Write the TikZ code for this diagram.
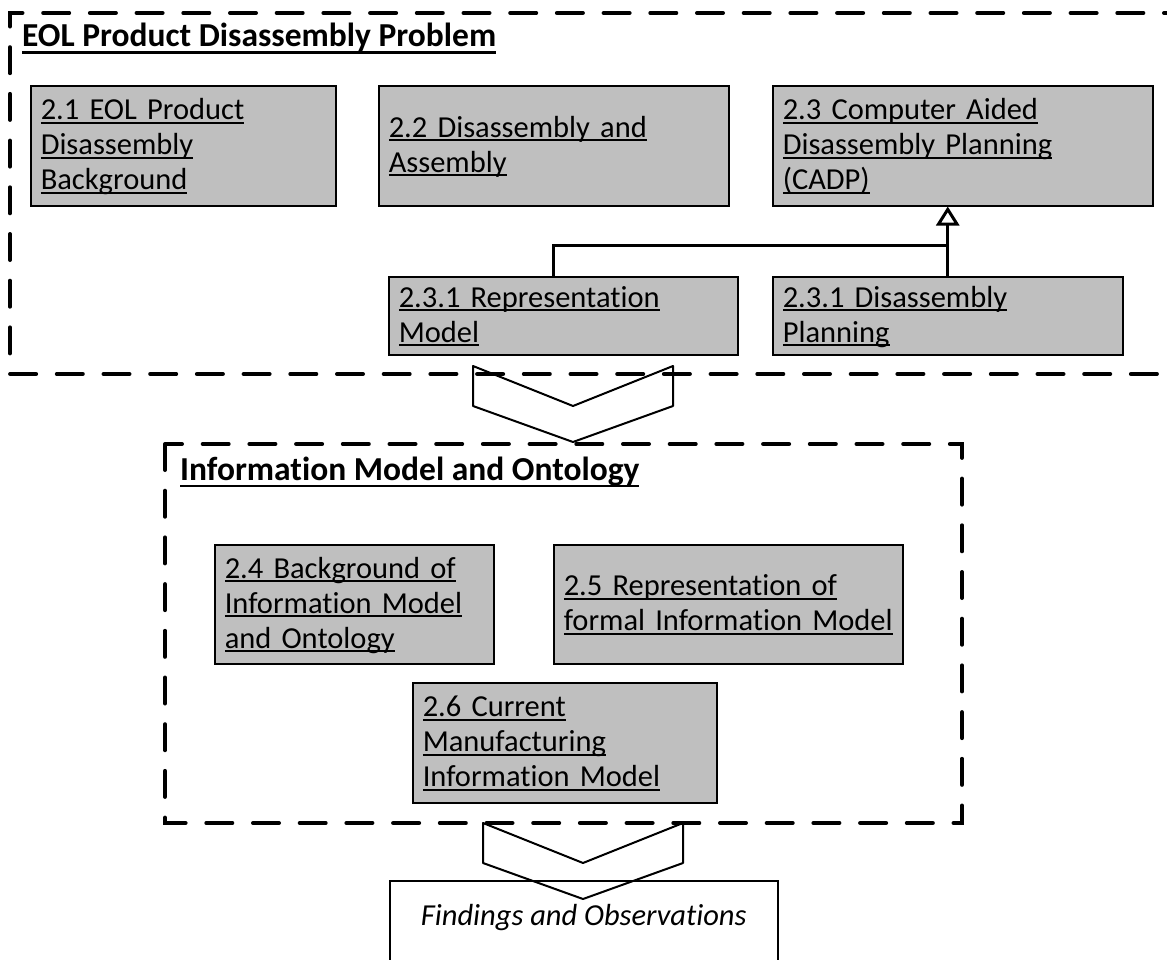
\documentclass[tikz,border=0pt]{standalone}
\usepackage{fontspec}
\setmainfont{Carlito}[Ligatures=NoCommon]
\usetikzlibrary{arrows.meta, positioning}
\definecolor{boxgray}{RGB}{191,191,191}
\newcommand{\secul}[2][-4.2pt]{\leavevmode\setbox0=\hbox{#2}\rlap{\rule[#1]{\wd0}{2.1pt}}\box0}
\newcommand{\chevron}[2]{\draw[chev] (#1,#2) -- ++(100,40) -- ++(100,-40) -- ++(0,40) -- ++(-100,36) -- ++(-100,-36) -- cycle;}

\begin{document}
\begin{tikzpicture}[x=1pt, y=-1pt,
    secbox/.style={draw, line width=1.5pt, fill=boxgray, anchor=north west, align=left, inner xsep=10pt, inner ysep=0pt,
        font=\fontsize{30.5}{35}\selectfont, execute at begin node={\rule{0pt}{26pt}}, execute at end node={\rule[-8pt]{0pt}{8pt}}},
    grp/.style={line width=4pt, line cap=round, dash pattern=on 26pt off 20.7pt},
    grptitle/.style={anchor=base west, inner sep=0pt, font=\fontsize{33.5}{38}\selectfont\bfseries},
    chev/.style={line width=2pt, line join=round},
    link/.style={line width=3pt}]

    \useasboundingbox (0,0) rectangle (1167,959);

    % dashed groups
    \draw[grp] (1190,13) -- (10,13) -- (10,374) -- (1190,374);
    \draw[grp] (165,444) rectangle (962,823);
    \node[grptitle] (t1) at (22,46.5) {\secul[-7pt]{EOL Product Disassembly Problem}};
    \node[grptitle] (t2) at (180,480) {\secul[-7pt]{Information Model and Ontology}};

    % sections
    \node[secbox, text width=285pt, minimum height=120pt] (s21) at (30,85) {\secul{2.1 EOL Product}\\\secul{Disassembly}\\\secul{Background}};
    \node[secbox, text width=330pt, minimum height=120pt] (s22) at (378,85) {\secul{2.2 Disassembly and}\\\secul{Assembly}};
    \node[secbox, text width=360pt, minimum height=120pt] (s23) at (772,85) {\secul{2.3 Computer Aided}\\\secul{Disassembly Planning}\\\secul{(CADP)}};
    \node[secbox, text width=329pt, minimum height=78pt] (s231r) at (388,276) {\secul{2.3.1 Representation}\\\secul{Model}};
    \node[secbox, text width=330pt, minimum height=78pt] (s231d) at (772,276) {\secul{2.3.1 Disassembly}\\\secul{Planning}};
    \node[secbox, text width=259pt, minimum height=119pt] (s24) at (214,544) {\secul{2.4 Background of}\\\secul{Information Model}\\\secul{and Ontology}};
    \node[secbox, text width=329pt, minimum height=119pt] (s25) at (553,544) {\secul{2.5 Representation of}\\\secul{formal Information Model}};
    \node[secbox, text width=284pt, minimum height=120pt] (s26) at (412,682) {\secul{2.6 Current}\\\secul{Manufacturing}\\\secul{Information Model}};
    \node[draw, line width=1.5pt, anchor=north west, minimum width=388pt, inner ysep=13pt, text height=32pt, text depth=60pt, font=\fontsize{30.5}{35}\selectfont\itshape] (find) at (389,880) {Findings and Observations};

    % links
    \coordinate (jn) at (947,245);
    \draw[link] ([xshift=-10pt]s231r.north) |- (jn);
    \draw[link, -{Triangle[open, length=19pt, width=23pt]}] (s231d.north) -- (s231d.north |- s23.south);

    \chevron{473}{366}
    \chevron{483}{823}
\end{tikzpicture}
\end{document}
